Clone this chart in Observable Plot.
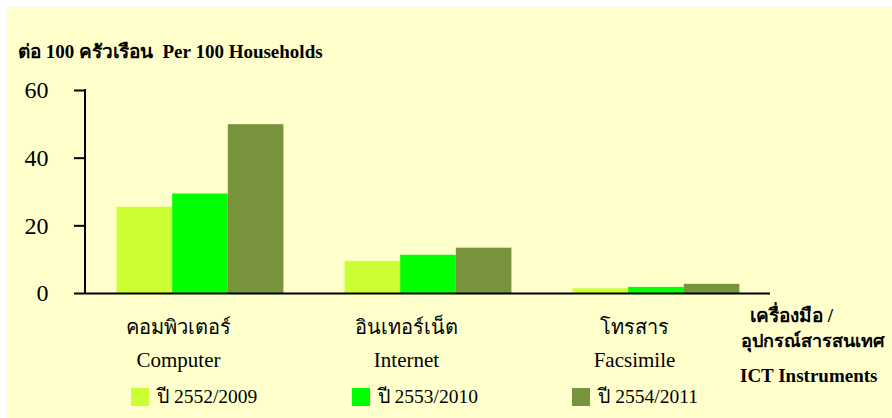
<!DOCTYPE html>
<html>
<head>
<meta charset="utf-8">
<script src="https://cdn.jsdelivr.net/npm/d3@7"></script>
<script src="https://cdn.jsdelivr.net/npm/@observablehq/plot@0.6"></script>
<style>
  html, body { margin: 0; padding: 0; background: #ffffff; }
  body { width: 892px; height: 418px; position: relative; overflow: hidden; font-family: "Liberation Serif", "DejaVu Serif", serif; }
  #bg { position: absolute; left: 7px; top: 7px; width: 885px; height: 411px; background: #FFFFCC; }
  #chart { position: absolute; left: 0; top: 0; }
  .lbl { position: absolute; color: #000; white-space: nowrap; font-weight: bold; font-size: 19px; line-height: 19px; }
  #title { left: 18px; top: 42px; }
  #xl1 { left: 750px; top: 306px; }
  #xl2 { left: 741px; top: 332px; font-size: 18px; }
  #xl3 { left: 740px; top: 366px; }
  #legend { position: absolute; left: 131px; top: 380px; }
  .lg-swatches { font-family: "Liberation Serif", "DejaVu Serif", serif !important; font-size: 19.5px !important; color: #000; }
  .lg-swatch { width: 220.7px; margin-right: 0 !important; }
  .lg-swatch svg { margin-right: 8px !important; }
</style>
</head>
<body>
<div id="bg"></div>
<div id="chart"></div>
<div id="title" class="lbl">ต่อ 100 ครัวเรือน&nbsp; Per 100 Households</div>
<div id="xl1" class="lbl">เครื่องมือ /</div>
<div id="xl2" class="lbl">อุปกรณ์สารสนเทศ</div>
<div id="xl3" class="lbl">ICT Instruments</div>
<div id="legend"></div>
<script>
const categoriesTh = ["คอมพิวเตอร์", "อินเทอร์เน็ต", "โทรสาร"];
const categoriesEn = ["Computer", "Internet", "Facsimile"];
const years = ["ปี 2552/2009", "ปี 2553/2010", "ปี 2554/2011"];
const colors = ["#CCFF33", "#00FF00", "#77933C"];
const values2009 = [25.5, 9.5, 1.4];
const values2010 = [29.4, 11.3, 1.8];
const values2011 = [49.9, 13.4, 2.7];
const yTicks = [0, 20, 40, 60];

const seriesValues = [values2009, values2010, values2011];
const rows = [];
categoriesTh.forEach((c, i) => {
  years.forEach((yr, j) => rows.push({cat: c, year: yr, value: seriesValues[j][i]}));
});
const catRows = categoriesTh.map((c, i) => ({cat: c, en: categoriesEn[i]}));

const chart = Plot.plot({
  width: 892,
  height: 418,
  marginLeft: 85,
  marginRight: 122,
  marginTop: 90,
  marginBottom: 125,
  style: {background: "transparent", fontFamily: "'Liberation Serif', 'DejaVu Serif', serif", color: "#000", overflow: "visible"},
  fx: {domain: categoriesTh, padding: 0, axis: null},
  x: {domain: years, paddingInner: 0, paddingOuter: 0.55, round: false, axis: null},
  y: {domain: [0, 60], axis: null},
  color: {domain: years, range: colors},
  marks: [
    Plot.barY(rows, {fx: "cat", x: "year", y: "value", fill: "year", insetLeft: 0, insetRight: 0}),
    Plot.ruleY([0], {stroke: "#000", strokeWidth: 2}),
    Plot.axisY({ticks: yTicks, tickSize: 12, tickPadding: 26, fontSize: 24, strokeWidth: 2, label: null, tickFormat: d => d}),
    Plot.text(catRows, {fx: "cat", text: "cat", frameAnchor: "bottom", lineAnchor: "bottom", dy: 40, dx: -22, fontSize: 20}),
    Plot.text(catRows, {fx: "cat", text: "en", frameAnchor: "bottom", lineAnchor: "bottom", dy: 73, dx: -22, fontSize: 21})
  ]
});
document.getElementById("chart").appendChild(chart);

// y axis domain line drawn from the chart's own y scale
const ys = chart.scale("y");
d3.select(chart).append("line")
  .attr("x1", 85).attr("x2", 85)
  .attr("y1", ys.apply(60) - 1).attr("y2", ys.apply(0) + 1)
  .attr("stroke", "#000").attr("stroke-width", 2);

const lg = chart.legend("color", {className: "lg", swatchSize: 18});
document.getElementById("legend").appendChild(lg);
</script>
</body>
</html>
